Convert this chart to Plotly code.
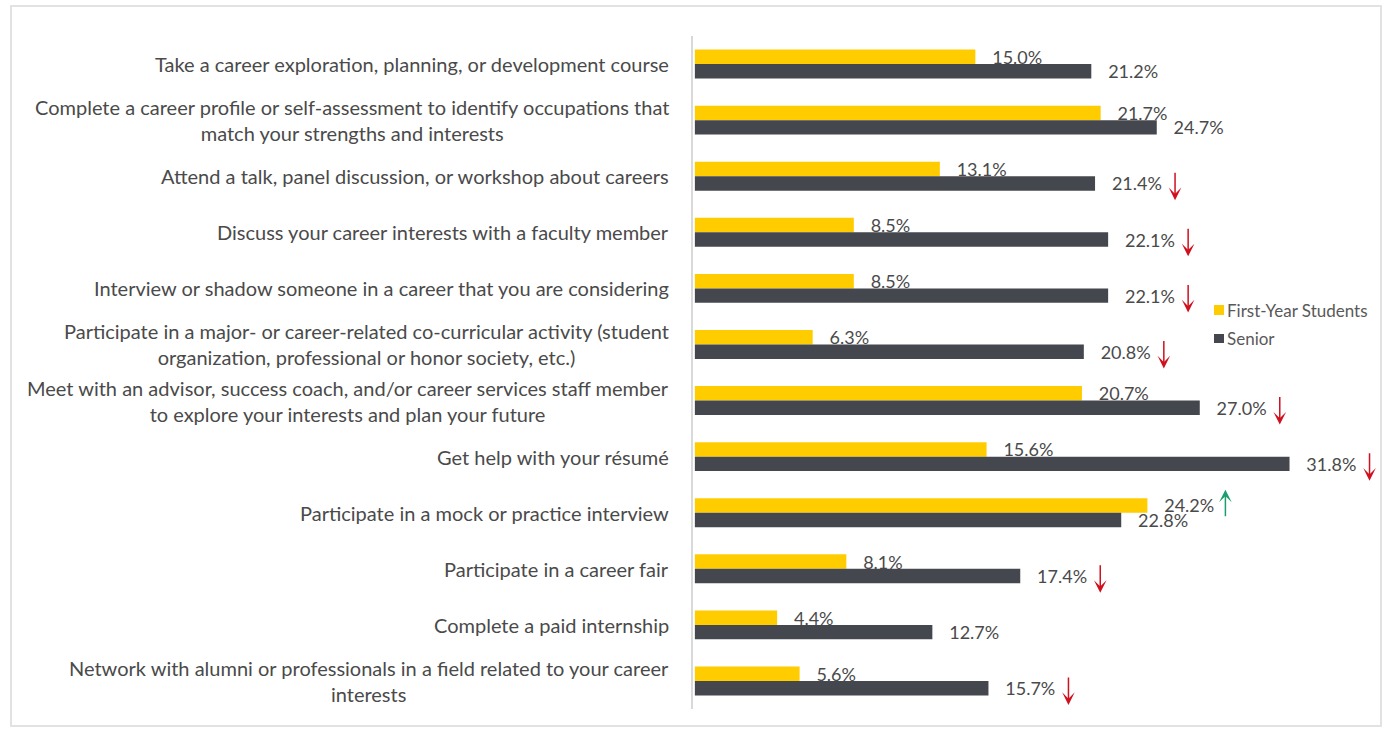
import plotly.graph_objects as go

# Survey items, top to bottom
activities = [
    "Take a career exploration, planning, or development course",
    "Complete a career profile or self-assessment to identify occupations that<br>match your strengths and interests",
    "Attend a talk, panel discussion, or workshop about careers",
    "Discuss your career interests with a faculty member",
    "Interview or shadow someone in a career that you are considering",
    "Participate in a major- or career-related co-curricular activity (student<br>organization, professional or honor society, etc.)",
    "Meet with an advisor, success coach, and/or career services staff member<br>to explore your interests and plan your future",
    "Get help with your résumé",
    "Participate in a mock or practice interview",
    "Participate in a career fair",
    "Complete a paid internship",
    "Network with alumni or professionals in a field related to your career<br>interests",
]
first_year = [15.0, 21.7, 13.1, 8.5, 8.5, 6.3, 20.7, 15.6, 24.2, 8.1, 4.4, 5.6]
senior = [21.2, 24.7, 21.4, 22.1, 22.1, 20.8, 27.0, 31.8, 22.8, 17.4, 12.7, 15.7]
# change marker shown next to each item
trend = ["", "", "down", "down", "down", "down", "down", "down", "up", "down", "", "down"]
series_names = ["First-Year Students", "Senior"]

FONT = "Lato"
YELLOW = "#FFCC00"
DARK = "#44474D"
TEXT = "#4A4A4A"
RED = "#D0101E"
GREEN = "#1A9E6E"

W, H = 1389, 734
ML, MR, MT, MB = 693, 2, 36, 25
PW, PH = W - ML - MR, H - MT - MB
PX_PER_PCT = 18.70
X0 = -0.1


def px_x(px):
    return (px - ML) / PW


def px_y(py):
    return 1 - (py - MT) / PH


fig = go.Figure()
pad = "\u00a0" * 3
for name, vals, color in zip(series_names, [first_year, senior], [YELLOW, DARK]):
    fig.add_trace(go.Bar(
        y=activities, x=vals, orientation="h", name=name,
        marker=dict(color=color, line_width=0),
        text=[f"{pad}{v:.1f}%" for v in vals],
        textposition="outside", constraintext="none", cliponaxis=False,
        textfont=dict(family=FONT, size=18, color=TEXT),
        showlegend=False, hoverinfo="skip",
    ))

annotations = []
# category labels, right-aligned with centered lines
for cat in activities:
    annotations.append(dict(
        xref="paper", x=0, xanchor="right", xshift=-22,
        yref="y", y=cat, yanchor="middle",
        text=cat, showarrow=False, align="center",
        font=dict(family=FONT, size=20, color=TEXT),
    ))

# change arrows next to the labels
for cat, fy, sv, t in zip(activities, first_year, senior, trend):
    if t == "down":
        annotations.append(dict(
            xref="x", x=sv, yref="y", y=cat, xshift=80, yshift=-24,
            text="", showarrow=True, axref="pixel", ayref="pixel", ax=0, ay=-29,
            arrowhead=3, arrowsize=1.4, arrowwidth=1.5, arrowcolor=RED, standoff=0,
        ))
    elif t == "up":
        annotations.append(dict(
            xref="x", x=fy, yref="y", y=cat, xshift=78, yshift=23,
            text="", showarrow=True, axref="pixel", ayref="pixel", ax=0, ay=28,
            arrowhead=3, arrowsize=1.4, arrowwidth=1.5, arrowcolor=GREEN, standoff=0,
        ))

# legend
shapes = []
legend_rows = [(series_names[0], YELLOW, 305, 315, 310), (series_names[1], DARK, 334, 343, 338.5)]
for name, color, top, bot, mid in legend_rows:
    shapes.append(dict(type="rect", xref="paper", yref="paper",
                       x0=px_x(1214), x1=px_x(1224), y0=px_y(bot), y1=px_y(top),
                       fillcolor=color, line_width=0))
    annotations.append(dict(xref="paper", x=px_x(1225), xanchor="left",
                            yref="paper", y=px_y(mid), yanchor="middle",
                            text=name, showarrow=False,
                            font=dict(family=FONT, size=17, color="#595959")))

# outer frame
shapes.append(dict(type="rect", xref="paper", yref="paper",
                   x0=px_x(11), x1=px_x(1381), y0=px_y(726), y1=px_y(6),
                   line=dict(color="#E2E2E2", width=2), fillcolor="rgba(0,0,0,0)", layer="below"))

fig.update_layout(
    width=W, height=H,
    margin=dict(l=ML, r=MR, t=MT, b=MB),
    paper_bgcolor="white", plot_bgcolor="white",
    barmode="group", bargap=0.483, bargroupgap=0,
    font=dict(family=FONT, color=TEXT),
    xaxis=dict(range=[X0, X0 + PW / PX_PER_PCT], visible=False, fixedrange=True),
    yaxis=dict(type="category", autorange="reversed", showticklabels=False,
               showgrid=False, zeroline=False, ticks="",
               showline=True, linecolor="#D9D9D9", linewidth=1.5),
    annotations=annotations, shapes=shapes,
    showlegend=False,
)

fig.write_html("out.html")
